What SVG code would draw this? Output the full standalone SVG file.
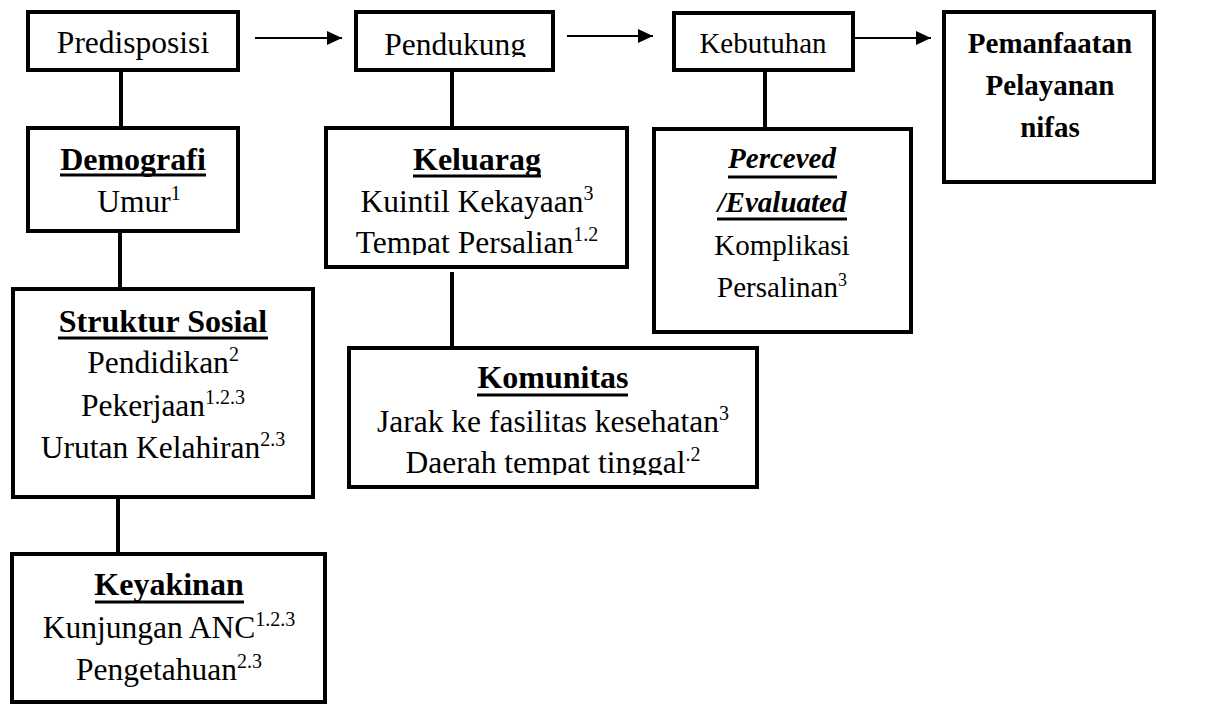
<svg xmlns="http://www.w3.org/2000/svg" width="1216" height="706" viewBox="0 0 1216 706">
<style>
.box{fill:#fff;stroke:#000;stroke-width:4}
text{font-family:'Liberation Serif','Times New Roman',serif}
.t{font-size:31.5px;fill:#000;text-anchor:middle}
.b{font-weight:bold;font-size:32px}
.s{font-size:29px}
.i{font-style:italic}
.sup{font-size:20px}
.sup2{font-size:18px}
.ul{stroke:#000;stroke-width:3}
.conn{stroke:#000;stroke-width:4;fill:none}
.arr{stroke:#000;stroke-width:2;fill:none}
</style>
<defs>
<marker id="ah" markerWidth="16" markerHeight="14" refX="15" refY="7" orient="auto" markerUnits="userSpaceOnUse">
<path d="M0,0 L15,7 L0,14 Z" fill="#000"/>
</marker>
<clipPath id="cPend"><rect x="356" y="12" width="197" height="45"/></clipPath>
<clipPath id="cKel"><rect x="326" y="128" width="301" height="127"/></clipPath>
<clipPath id="cKom"><rect x="349" y="348" width="408" height="127"/></clipPath>
</defs>
<rect width="1216" height="706" fill="#fff"/>
<g id="connectors">
<line class="arr" x1="255" y1="38" x2="342" y2="38" marker-end="url(#ah)"/>
<line class="arr" x1="567" y1="36" x2="653" y2="36" marker-end="url(#ah)"/>
<line class="arr" x1="853" y1="38" x2="931" y2="38" marker-end="url(#ah)"/>
<line class="conn" x1="121" y1="70" x2="121" y2="128"/>
<line class="conn" x1="120" y1="231" x2="120" y2="289"/>
<line class="conn" x1="118" y1="497" x2="118" y2="554"/>
<line class="conn" x1="452" y1="66" x2="452" y2="128"/>
<line class="conn" x1="452" y1="272" x2="452" y2="348"/>
<line class="conn" x1="765" y1="70" x2="765" y2="129"/>
</g>
<g id="predisposisi">
<rect class="box" x="28" y="12" width="210" height="58"/>
<text class="t" x="133" y="53">Predisposisi</text>
</g>
<g id="pendukung">
<rect class="box" x="356" y="12" width="197" height="58"/>
<text class="t" x="455" y="55" clip-path="url(#cPend)">Pendukung</text>
</g>
<g id="kebutuhan">
<rect class="box" x="674" y="13" width="179" height="57"/>
<text class="t s" x="763" y="53">Kebutuhan</text>
</g>
<g id="pemanfaatan">
<rect class="box" x="944" y="12" width="210" height="170"/>
<text class="t b s" x="1050" y="53">Pemanfaatan</text>
<text class="t b s" x="1050" y="95">Pelayanan</text>
<text class="t b s" x="1050" y="137">nifas</text>
</g>
<g id="demografi">
<rect class="box" x="28" y="128" width="210" height="103"/>
<text class="t b" x="133" y="170">Demografi</text>
<line class="ul" x1="60" y1="175" x2="206" y2="175"/>
<text class="t" x="139" y="212">Umur<tspan class="sup" dy="-12">1</tspan></text>
</g>
<g id="keluarag">
<rect class="box" x="326" y="128" width="301" height="139"/>
<text class="t b" x="477" y="170">Keluarag</text>
<line class="ul" x1="413" y1="176" x2="541" y2="176"/>
<text class="t" x="477" y="212">Kuintil Kekayaan<tspan class="sup" dy="-12">3</tspan></text>
<text class="t" x="477" y="253" clip-path="url(#cKel)">Tempat Persalian<tspan class="sup" dy="-12">1.2</tspan></text>
</g>
<g id="perceived">
<rect class="box" x="654" y="129" width="257" height="203"/>
<text class="t b i s" x="782" y="168">Perceved</text>
<line class="ul" x1="728" y1="177" x2="837" y2="177"/>
<text class="t b i s" x="782" y="212">/Evaluated</text>
<line class="ul" x1="717" y1="219" x2="847" y2="219"/>
<text class="t s" x="782" y="255">Komplikasi</text>
<text class="t s" x="782" y="297">Persalinan<tspan class="sup2" dy="-11">3</tspan></text>
</g>
<g id="struktur">
<rect class="box" x="13" y="289" width="300" height="208"/>
<text class="t b" x="163" y="332">Struktur Sosial</text>
<line class="ul" x1="58" y1="338" x2="268" y2="338"/>
<text class="t" x="163" y="373">Pendidikan<tspan class="sup" dy="-12">2</tspan></text>
<text class="t" x="163" y="416">Pekerjaan<tspan class="sup" dy="-12">1.2.3</tspan></text>
<text class="t" x="163" y="458">Urutan Kelahiran<tspan class="sup" dy="-12">2.3</tspan></text>
</g>
<g id="komunitas">
<rect class="box" x="349" y="348" width="408" height="139"/>
<text class="t b" x="553" y="388">Komunitas</text>
<line class="ul" x1="477" y1="395" x2="628" y2="395"/>
<text class="t" x="553" y="432">Jarak ke fasilitas kesehatan<tspan class="sup" dy="-12">3</tspan></text>
<text class="t" x="553" y="473" clip-path="url(#cKom)">Daerah tempat tinggal<tspan class="sup" dy="-12">.2</tspan></text>
</g>
<g id="keyakinan">
<rect class="box" x="12" y="554" width="313" height="148"/>
<text class="t b" x="169" y="595">Keyakinan</text>
<line class="ul" x1="95" y1="602" x2="244" y2="602"/>
<text class="t" x="169" y="638">Kunjungan ANC<tspan class="sup" dy="-12">1.2.3</tspan></text>
<text class="t" x="169" y="680">Pengetahuan<tspan class="sup" dy="-12">2.3</tspan></text>
</g>
</svg>
